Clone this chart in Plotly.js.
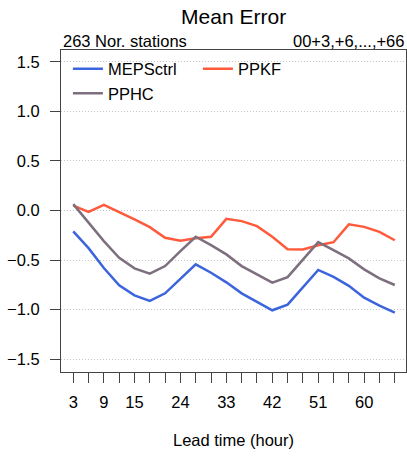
<!DOCTYPE html>
<html>
<head>
<meta charset="utf-8">
<script src="https://cdn.plot.ly/plotly-3.0.1.min.js"></script>
<style>html,body{margin:0;padding:0;background:#fff;}#chart{width:407px;height:457px;}</style>
</head>
<body>
<div id="chart"></div>
<script>
var leadTimes = [3,6,9,12,15,18,21,24,27,30,33,36,39,42,45,48,51,54,57,60,63,66];
var mepsctrl = [-0.21,-0.38,-0.58,-0.755,-0.856,-0.913,-0.836,-0.688,-0.544,-0.628,-0.725,-0.836,-0.92,-1.007,-0.95,-0.78,-0.60,-0.67,-0.76,-0.88,-0.96,-1.03];
var ppkf = [0.05,-0.013,0.057,-0.013,-0.09,-0.168,-0.275,-0.305,-0.28,-0.265,-0.084,-0.107,-0.158,-0.265,-0.39,-0.393,-0.35,-0.32,-0.14,-0.165,-0.215,-0.30];
var pphc = [0.064,-0.118,-0.309,-0.477,-0.584,-0.638,-0.561,-0.41,-0.265,-0.35,-0.443,-0.561,-0.645,-0.728,-0.672,-0.50,-0.319,-0.40,-0.483,-0.594,-0.685,-0.752];
var xTickLabels = ['3','','9','','15','','','24','','','33','','','42','','','51','','','60','',''];
var yTickVals = [-1.5,-1.0,-0.5,0.0,0.5,1.0,1.5];
var yTickLabels = ['\u22121.5','\u22121.0','\u22120.5','0.0','0.5','1.0','1.5'];

var font = 'Liberation Sans, Arial, sans-serif';
var traces = [
  {x: leadTimes, y: mepsctrl, name: 'MEPSctrl', mode: 'lines', line: {color: '#3c64dc', width: 2.5}},
  {x: leadTimes, y: ppkf, name: 'PPKF', mode: 'lines', line: {color: '#ff5a3c', width: 2.5}},
  {x: leadTimes, y: pphc, name: 'PPHC', mode: 'lines', line: {color: '#7d6f7d', width: 2.5}}
];
var layout = {
  width: 407, height: 457,
  margin: {l: 61, r: 1, t: 50, b: 85},
  paper_bgcolor: '#fff', plot_bgcolor: '#fff',
  font: {family: font, size: 16.5, color: '#000'},
  title: {text: 'Mean Error', font: {size: 21, color: '#000'}, x: 0.574, xanchor: 'center', y: 0.963, yanchor: 'middle'},
  showlegend: true,
  legend: {orientation: 'h', x: 0.02, y: 0.995, xanchor: 'left', yanchor: 'top',
           entrywidth: 85, entrywidthmode: 'pixels', tracegroupgap: 0,
           font: {size: 16.5}, bgcolor: 'rgba(0,0,0,0)', itemwidth: 30},
  xaxis: {
    range: [0.6, 68.2], tickmode: 'array', tickvals: leadTimes, ticktext: xTickLabels,
    ticks: 'outside', ticklen: 10, tickwidth: 1, tickcolor: '#444',
    showline: true, mirror: true, linecolor: '#444', linewidth: 1,
    showgrid: false, zeroline: false, ticklabelstandoff: 5,
    tickfont: {size: 16.5},
    title: {text: 'Lead time (hour)', font: {size: 16.5}, standoff: 24}
  },
  yaxis: {
    range: [-1.63, 1.62], tickmode: 'array', tickvals: yTickVals, ticktext: yTickLabels,
    ticks: 'outside', ticklen: 10, tickwidth: 1, tickcolor: '#444',
    showline: true, mirror: true, linecolor: '#444', linewidth: 1,
    showgrid: true, gridcolor: '#c8c8c8', griddash: '1px,2px', gridwidth: 1,
    zeroline: false, ticklabelstandoff: 7, tickfont: {size: 16.5}
  },
  annotations: [
    {text: '263 Nor. stations', xref: 'paper', yref: 'paper', x: 0, y: 1, xanchor: 'left', yanchor: 'bottom', yshift: -2, showarrow: false, font: {size: 16.5}},
    {text: '00+3,+6,...,+66', xref: 'paper', yref: 'paper', x: 1, y: 1, xanchor: 'right', yanchor: 'bottom', yshift: -2, showarrow: false, font: {size: 16.5}}
  ]
};
Plotly.newPlot('chart', traces, layout, {displayModeBar: false, staticPlot: true});
</script>
</body>
</html>
